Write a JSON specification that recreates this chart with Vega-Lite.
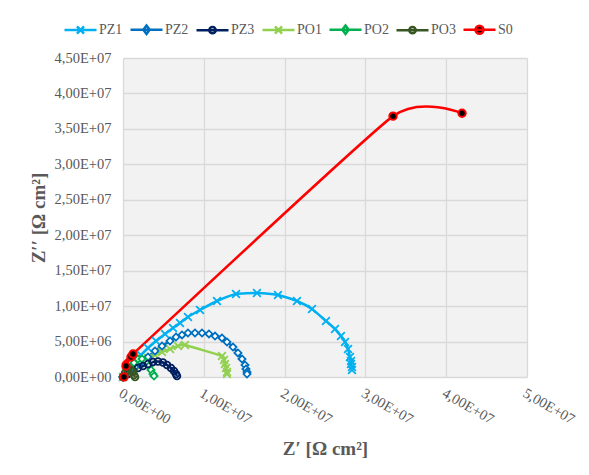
{
  "$schema": "https://vega.github.io/schema/vega-lite/v6.json",
  "width": 404,
  "height": 319,
  "autosize": {"type": "none"},
  "padding": {"left": 123, "top": 58, "right": 62, "bottom": 98},
  "background": "white",
  "config": {
    "view": {"stroke": null, "fill": "#f2f2f2"},
    "axis": {
      "labelFont": "Liberation Serif",
      "labelFontSize": 14.5,
      "labelColor": "#595959",
      "titleFont": "Liberation Serif",
      "titleFontSize": 19,
      "titleFontWeight": "bold",
      "titleColor": "#595959",
      "gridColor": "#d9d9d9",
      "gridWidth": 1.3,
      "domain": false,
      "ticks": false,
      "labelFlush": false,
      "labelOverlap": false
    },
    "legend": {
      "orient": "none",
      "legendX": -60,
      "legendY": -46,
      "direction": "horizontal",
      "padding": 0,
      "labelFont": "Liberation Serif",
      "labelFontSize": 14,
      "labelColor": "#595959",
      "symbolSize": 1024,
      "symbolStrokeWidth": 2.5,
      "labelOffset": 1,
      "columnPadding": 2
    }
  },
  "data": {
    "values": [
      {"s": "PZ1", "i": 0, "x": 0, "y": 0},
      {"s": "PZ1", "i": 1, "x": 370000, "y": 705000},
      {"s": "PZ1", "i": 2, "x": 870000, "y": 1410000},
      {"s": "PZ1", "i": 3, "x": 1490000, "y": 2260000},
      {"s": "PZ1", "i": 4, "x": 2230000, "y": 3100000},
      {"s": "PZ1", "i": 5, "x": 3090000, "y": 4090000},
      {"s": "PZ1", "i": 6, "x": 4080000, "y": 5080000},
      {"s": "PZ1", "i": 7, "x": 5200000, "y": 6070000},
      {"s": "PZ1", "i": 8, "x": 6190000, "y": 6910000},
      {"s": "PZ1", "i": 9, "x": 7050000, "y": 7620000},
      {"s": "PZ1", "i": 10, "x": 8040000, "y": 8460000},
      {"s": "PZ1", "i": 11, "x": 9530000, "y": 9450000},
      {"s": "PZ1", "i": 12, "x": 11630000, "y": 10720000},
      {"s": "PZ1", "i": 13, "x": 13990000, "y": 11710000},
      {"s": "PZ1", "i": 14, "x": 16580000, "y": 11850000},
      {"s": "PZ1", "i": 15, "x": 19180000, "y": 11570000},
      {"s": "PZ1", "i": 16, "x": 21530000, "y": 10720000},
      {"s": "PZ1", "i": 17, "x": 23390000, "y": 9590000},
      {"s": "PZ1", "i": 18, "x": 25120000, "y": 7900000},
      {"s": "PZ1", "i": 19, "x": 26240000, "y": 6770000},
      {"s": "PZ1", "i": 20, "x": 26980000, "y": 5780000},
      {"s": "PZ1", "i": 21, "x": 27480000, "y": 4940000},
      {"s": "PZ1", "i": 22, "x": 27850000, "y": 3950000},
      {"s": "PZ1", "i": 23, "x": 28090000, "y": 2820000},
      {"s": "PZ1", "i": 24, "x": 28220000, "y": 2260000},
      {"s": "PZ1", "i": 25, "x": 28220000, "y": 1830000},
      {"s": "PZ1", "i": 26, "x": 28340000, "y": 1410000},
      {"s": "PZ1", "i": 27, "x": 28340000, "y": 990000},

      {"s": "PZ2", "i": 0, "x": 0, "y": 0},
      {"s": "PZ2", "i": 1, "x": 370000, "y": 420000},
      {"s": "PZ2", "i": 2, "x": 870000, "y": 850000},
      {"s": "PZ2", "i": 3, "x": 1490000, "y": 1410000},
      {"s": "PZ2", "i": 4, "x": 2230000, "y": 2120000},
      {"s": "PZ2", "i": 5, "x": 3090000, "y": 2820000},
      {"s": "PZ2", "i": 6, "x": 3960000, "y": 3670000},
      {"s": "PZ2", "i": 7, "x": 4830000, "y": 4370000},
      {"s": "PZ2", "i": 8, "x": 5820000, "y": 5080000},
      {"s": "PZ2", "i": 9, "x": 6560000, "y": 5640000},
      {"s": "PZ2", "i": 10, "x": 7300000, "y": 5930000},
      {"s": "PZ2", "i": 11, "x": 8040000, "y": 6210000},
      {"s": "PZ2", "i": 12, "x": 8910000, "y": 6210000},
      {"s": "PZ2", "i": 13, "x": 9780000, "y": 6210000},
      {"s": "PZ2", "i": 14, "x": 10640000, "y": 6070000},
      {"s": "PZ2", "i": 15, "x": 11390000, "y": 5780000},
      {"s": "PZ2", "i": 16, "x": 12250000, "y": 5500000},
      {"s": "PZ2", "i": 17, "x": 12870000, "y": 4940000},
      {"s": "PZ2", "i": 18, "x": 13610000, "y": 4230000},
      {"s": "PZ2", "i": 19, "x": 14230000, "y": 3390000},
      {"s": "PZ2", "i": 20, "x": 14730000, "y": 2540000},
      {"s": "PZ2", "i": 21, "x": 15100000, "y": 1690000},
      {"s": "PZ2", "i": 22, "x": 15220000, "y": 1130000},
      {"s": "PZ2", "i": 23, "x": 15350000, "y": 710000},
      {"s": "PZ2", "i": 24, "x": 15350000, "y": 420000},

      {"s": "PZ3", "i": 0, "x": 0, "y": 0},
      {"s": "PZ3", "i": 1, "x": 620000, "y": 420000},
      {"s": "PZ3", "i": 2, "x": 1240000, "y": 850000},
      {"s": "PZ3", "i": 3, "x": 1860000, "y": 1270000},
      {"s": "PZ3", "i": 4, "x": 2480000, "y": 1550000},
      {"s": "PZ3", "i": 5, "x": 3090000, "y": 1830000},
      {"s": "PZ3", "i": 6, "x": 3710000, "y": 2120000},
      {"s": "PZ3", "i": 7, "x": 4330000, "y": 2190000},
      {"s": "PZ3", "i": 8, "x": 4950000, "y": 2050000},
      {"s": "PZ3", "i": 9, "x": 5450000, "y": 1690000},
      {"s": "PZ3", "i": 10, "x": 5940000, "y": 1270000},
      {"s": "PZ3", "i": 11, "x": 6310000, "y": 850000},
      {"s": "PZ3", "i": 12, "x": 6560000, "y": 420000},
      {"s": "PZ3", "i": 13, "x": 6680000, "y": 140000},

      {"s": "PO1", "i": 0, "x": 0, "y": 0},
      {"s": "PO1", "i": 1, "x": 370000, "y": 560000},
      {"s": "PO1", "i": 2, "x": 870000, "y": 1130000},
      {"s": "PO1", "i": 3, "x": 1490000, "y": 1690000},
      {"s": "PO1", "i": 4, "x": 2230000, "y": 2260000},
      {"s": "PO1", "i": 5, "x": 3090000, "y": 2680000},
      {"s": "PO1", "i": 6, "x": 3960000, "y": 3100000},
      {"s": "PO1", "i": 7, "x": 4830000, "y": 3530000},
      {"s": "PO1", "i": 8, "x": 5820000, "y": 3950000},
      {"s": "PO1", "i": 9, "x": 6810000, "y": 4370000},
      {"s": "PO1", "i": 10, "x": 7670000, "y": 4510000},
      {"s": "PO1", "i": 11, "x": 12250000, "y": 2960000},
      {"s": "PO1", "i": 12, "x": 12500000, "y": 2400000},
      {"s": "PO1", "i": 13, "x": 12620000, "y": 1830000},
      {"s": "PO1", "i": 14, "x": 12750000, "y": 1270000},
      {"s": "PO1", "i": 15, "x": 12870000, "y": 710000},
      {"s": "PO1", "i": 16, "x": 12870000, "y": 420000},

      {"s": "PO2", "i": 0, "x": 0, "y": 0},
      {"s": "PO2", "i": 1, "x": 370000, "y": 560000},
      {"s": "PO2", "i": 2, "x": 870000, "y": 1270000},
      {"s": "PO2", "i": 3, "x": 1360000, "y": 1980000},
      {"s": "PO2", "i": 4, "x": 1860000, "y": 2540000},
      {"s": "PO2", "i": 5, "x": 2350000, "y": 2540000},
      {"s": "PO2", "i": 6, "x": 2850000, "y": 2120000},
      {"s": "PO2", "i": 7, "x": 3220000, "y": 1550000},
      {"s": "PO2", "i": 8, "x": 3470000, "y": 990000},
      {"s": "PO2", "i": 9, "x": 3710000, "y": 420000},
      {"s": "PO2", "i": 10, "x": 3840000, "y": 140000},

      {"s": "PO3", "i": 0, "x": 0, "y": 0},
      {"s": "PO3", "i": 1, "x": 250000, "y": 560000},
      {"s": "PO3", "i": 2, "x": 620000, "y": 990000},
      {"s": "PO3", "i": 3, "x": 990000, "y": 990000},
      {"s": "PO3", "i": 4, "x": 1240000, "y": 710000},
      {"s": "PO3", "i": 5, "x": 1360000, "y": 280000},
      {"s": "PO3", "i": 6, "x": 1490000, "y": 0},

      {"s": "S0", "i": 0, "x": 120000, "y": 0},
      {"s": "S0", "i": 1, "x": 370000, "y": 1550000},
      {"s": "S0", "i": 2, "x": 990000, "y": 2820000},
      {"s": "S0", "i": 3, "x": 1240000, "y": 3240000},
      {"s": "S0", "i": 4, "x": 33420000, "y": 36800000},
      {"s": "S0", "i": 5, "x": 41960000, "y": 37200000}
    ]
  },
  "encoding": {
    "x": {
      "field": "x",
      "type": "quantitative",
      "scale": {"domain": [0, 50000000], "nice": false, "zero": false},
      "axis": {
        "values": [0, 10000000, 20000000, 30000000, 40000000, 50000000],
        "labelExpr": "replace(replace(format(datum.value, '.2e'), '.', ','), 'e+', 'E+0')",
        "labelAngle": 30,
        "labelAlign": "left",
        "labelBaseline": "top",
        "labelPadding": 9,
        "title": "Z′ [Ω cm²]",
        "titlePadding": 13
      }
    },
    "y": {
      "field": "y",
      "type": "quantitative",
      "scale": {"domain": [0, 45000000], "nice": false, "zero": false},
      "axis": {
        "values": [0, 5000000, 10000000, 15000000, 20000000, 25000000, 30000000, 35000000, 40000000, 45000000],
        "labelExpr": "replace(replace(format(datum.value, '.2e'), '.', ','), 'e+', 'E+0')",
        "labelPadding": 12,
        "title": "Z′′ [Ω cm²]",
        "titlePadding": 6
      }
    }
  },
  "layer": [
    {
      "mark": {"type": "line", "interpolate": "cardinal", "tension": 0.5, "strokeWidth": 2.5},
      "encoding": {
        "color": {
          "field": "s",
          "type": "nominal",
          "scale": {
            "domain": ["PZ1", "PZ2", "PZ3", "PO1", "PO2", "PO3", "S0"],
            "range": ["#00b0f0", "#0070c0", "#002060", "#92d050", "#00b050", "#375623", "#ff0000"]
          },
          "legend": {
            "title": null,
            "encoding": {
              "symbols": {
                "shape": {"value": {"expr": "(datum.value === 'PZ1' || datum.value === 'PO1') ? 'M-1,0L1,0M-0.22,-0.22L0.22,0.22M-0.22,0.22L0.22,-0.22' : (datum.value === 'PZ2' || datum.value === 'PO2') ? 'M-1,0L1,0M0,-0.26L0.2,0L0,0.26L-0.2,0Z' : datum.value === 'S0' ? 'M-1,0L1,0M0.25,0A0.25,0.25 0 1 1 -0.25,0A0.25,0.25 0 1 1 0.25,0Z' : 'M-1,0L1,0M0.2,0A0.2,0.2 0 1 1 -0.2,0A0.2,0.2 0 1 1 0.2,0Z'"}},
                "fill": {"value": {"expr": "datum.value === 'S0' ? 'black' : (datum.value === 'PZ2' || datum.value === 'PO2') ? 'white' : 'transparent'"}}
              }
            }
          }
        },
        "order": {"field": "i", "type": "quantitative"}
      }
    },
    {
      "transform": [{"filter": {"field": "s", "oneOf": ["PZ1", "PO1"]}}],
      "mark": {"type": "point", "shape": "M-1,-1L1,1M-1,1L1,-1", "filled": false, "opacity": 1, "strokeWidth": 1.8, "size": 60},
      "encoding": {
        "stroke": {
          "field": "s",
          "type": "nominal",
          "scale": {
            "domain": ["PZ1", "PZ2", "PZ3", "PO1", "PO2", "PO3", "S0"],
            "range": ["#00b0f0", "#0070c0", "#002060", "#92d050", "#00b050", "#375623", "#ff0000"]
          },
          "legend": null
        }
      }
    },
    {
      "transform": [{"filter": {"field": "s", "oneOf": ["PZ2", "PO2"]}}],
      "mark": {"type": "point", "shape": "diamond", "filled": true, "fill": "white", "opacity": 1, "strokeWidth": 1.8, "size": 50},
      "encoding": {
        "stroke": {"field": "s", "type": "nominal", "legend": null}
      }
    },
    {
      "transform": [{"filter": {"field": "s", "oneOf": ["PZ3", "PO3"]}}],
      "mark": {"type": "point", "shape": "circle", "filled": false, "opacity": 1, "strokeWidth": 1.8, "size": 45},
      "encoding": {
        "stroke": {"field": "s", "type": "nominal", "legend": null}
      }
    },
    {
      "transform": [{"filter": {"field": "s", "equal": "S0"}}],
      "mark": {"type": "point", "shape": "circle", "filled": true, "fill": "black", "opacity": 1, "strokeWidth": 2, "size": 55},
      "encoding": {
        "stroke": {"field": "s", "type": "nominal", "legend": null}
      }
    }
  ]
}
